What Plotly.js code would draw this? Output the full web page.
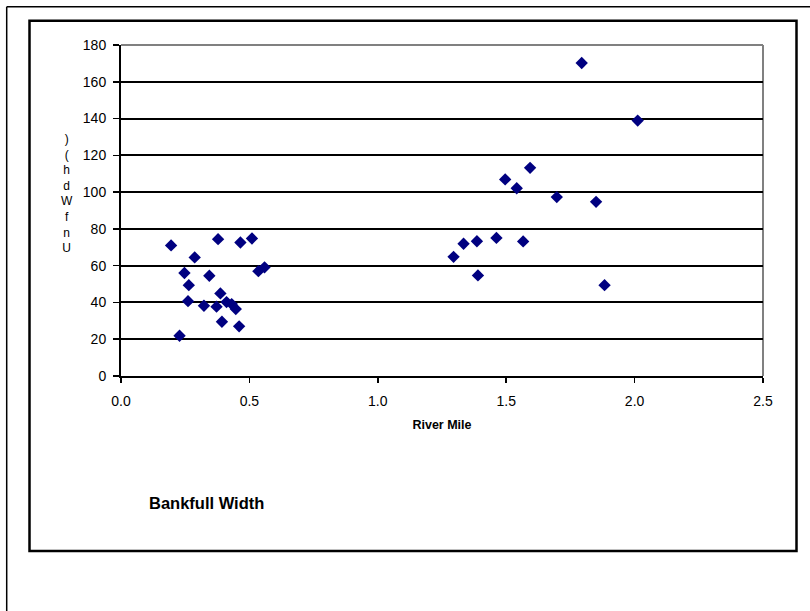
<!DOCTYPE html>
<html>
<head>
<meta charset="utf-8">
<script src="https://cdn.plot.ly/plotly-3.0.1.min.js"></script>
<style>html,body{margin:0;padding:0;background:#fff;}#chart{width:810px;height:611px;}</style>
</head>
<body>
<div id="chart"></div>
<script>
// Data
const riverMile = [
  0.195, 0.378, 0.465, 0.510, 0.287, 0.247, 0.344, 0.535, 0.559, 0.264,
  0.387, 0.261, 0.323, 0.372, 0.411, 0.431, 0.447, 0.393, 0.460, 0.228,
  1.295, 1.334, 1.386, 1.462, 1.566, 1.390, 1.496, 1.541, 1.593, 1.697,
  1.850, 1.883, 1.794, 2.012
];
const bankfullWidth = [
  71.0, 74.4, 72.6, 74.8, 64.5, 56.0, 54.5, 57.0, 59.1, 49.4,
  44.9, 40.7, 38.2, 37.7, 40.2, 39.1, 36.4, 29.5, 27.0, 21.9,
  64.8, 71.9, 73.3, 75.1, 73.2, 54.7, 106.9, 102.1, 113.2, 97.3,
  94.7, 49.4, 170.2, 138.9
];
const xTickVals = [0, 0.5, 1.0, 1.5, 2.0, 2.5];
const xTickText = ["0.0", "0.5", "1.0", "1.5", "2.0", "2.5"];
const yTickVals = [0, 20, 40, 60, 80, 100, 120, 140, 160, 180];
// garbled vertical y title as it appears, top to bottom
const yTitleChars = [")", "(", "h", "d", "W", "f", "n", "U"];
const chartLabel = "Bankfull Width";
const xTitle = "River Mile";

const W = 810, H = 611;
const ML = 121, MR = 47, MT = 45, MB = 235;
const PW = W - ML - MR, PH = H - MT - MB;
const px = v => (v - ML) / PW;
const py = v => (H - MB - v) / PH;
const FONT = "Liberation Sans, Arial, sans-serif";

const trace = {
  x: riverMile, y: bankfullWidth, type: "scatter", mode: "markers",
  marker: {symbol: "diamond", size: 9.5, color: "#000080", line: {width: 0}},
  hoverinfo: "x+y", cliponaxis: false
};

const annotations = [
  {
    xref: "paper", yref: "paper", x: px(67), y: py(193),
    text: yTitleChars.join("<br>"), showarrow: false, xanchor: "center", yanchor: "middle",
    font: {family: FONT, size: 12, color: "#000"}
  },
  {
    xref: "paper", yref: "paper", x: px(206), y: py(503), text: "<b>" + chartLabel + "</b>",
    showarrow: false, xanchor: "center", yanchor: "middle",
    font: {family: FONT, size: 16.5, color: "#000"}
  }
];

const shapes = [
  // outer frame (top and left edges visible)
  {type: "line", xref: "paper", yref: "paper", x0: px(6.7), x1: px(812), y0: py(6.7), y1: py(6.7),
   line: {color: "#000", width: 1.5}, layer: "below"},
  {type: "line", xref: "paper", yref: "paper", x0: px(6.7), x1: px(6.7), y0: py(6.7), y1: py(613),
   line: {color: "#000", width: 1.5}, layer: "below"},
  // inner frame
  {type: "rect", xref: "paper", yref: "paper", x0: px(29.5), x1: px(796.5), y0: py(20.7), y1: py(551),
   line: {color: "#000", width: 2.5}, layer: "below"},
  // gray plot border top and right
  {type: "line", xref: "paper", yref: "paper", x0: 0, x1: 1, y0: 1, y1: 1,
   line: {color: "#808080", width: 2}, layer: "above"},
  {type: "line", xref: "paper", yref: "paper", x0: 1, x1: 1, y0: 0, y1: 1,
   line: {color: "#808080", width: 2}, layer: "below"}
];

const layout = {
  width: W, height: H,
  margin: {l: ML, r: MR, t: MT, b: MB, pad: 0},
  paper_bgcolor: "#fff", plot_bgcolor: "#fff",
  showlegend: false,
  font: {family: FONT, size: 14, color: "#000"},
  xaxis: {
    range: [0, 2.5], tickvals: xTickVals, ticktext: xTickText,
    showgrid: false, zeroline: false, showline: true, linecolor: "#000", linewidth: 2,
    ticks: "outside", ticklen: 5, tickwidth: 1.5, tickcolor: "#000",
    ticklabelstandoff: 6,
    tickfont: {family: FONT, size: 14, color: "#000"},
    title: {text: "<b>" + xTitle + "</b>", font: {family: FONT, size: 12.5, color: "#000"}, standoff: 12},
    fixedrange: true
  },
  yaxis: {
    range: [0, 180], tickvals: yTickVals,
    showgrid: true, gridcolor: "#000", gridwidth: 2,
    zeroline: false, showline: true, linecolor: "#000", linewidth: 2,
    ticks: "outside", ticklen: 6, tickwidth: 1.5, tickcolor: "#000",
    ticklabelstandoff: 4,
    tickfont: {family: FONT, size: 14, color: "#000"},
    fixedrange: true
  },
  annotations: annotations,
  shapes: shapes
};

Plotly.newPlot("chart", [trace], layout, {displayModeBar: false, staticPlot: true});
</script>
</body>
</html>
